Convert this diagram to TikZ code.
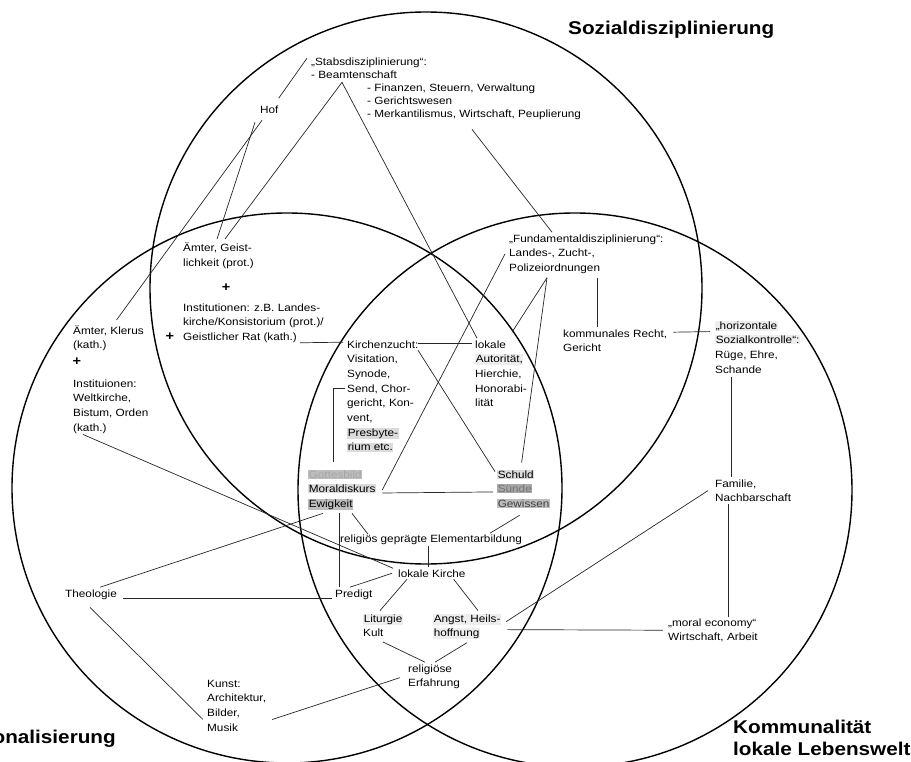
\documentclass[tikz,border=0pt]{standalone}
\usepackage{fontspec}
\setmainfont{Liberation Sans}[FakeStretch=1.12]
\usepackage{xcolor}
\usetikzlibrary{calc,positioning}
\definecolor{hllight}{gray}{0.93}
\definecolor{hlgray}{gray}{0.86}
\definecolor{hlmid}{gray}{0.74}
\definecolor{hldark}{gray}{0.66}
\newcommand{\hlbox}[2][hlgray]{{\setlength{\fboxsep}{0.6pt}\colorbox{#1}{#2}}}

\begin{document}
\begin{tikzpicture}[
    x=1pt, y=-1pt,
    ring/.style={draw, line width=1.4pt},
    conn/.style={draw, line width=0.7pt, black!85},
    lbl/.style={anchor=base west, inner sep=0, align=left,
        font=\fontsize{10.5}{14.7}\selectfont},
    rows/.style={yshift=-(#1-1)*14.7pt},
    tight/.style={font=\fontsize{10.5}{13}\selectfont},
    tightrows/.style={yshift=-(#1-1)*13pt},
    plus/.style={inner sep=0, font=\fontsize{13}{13}\selectfont\bfseries},
    title/.style={inner sep=0, align=left,
        font=\fontsize{18.5}{22}\selectfont\bfseries}]
\useasboundingbox (0,0) rectangle (911,762);

\path[ring] (426,288) circle[radius=276pt];
\path[ring] (287,488) circle[radius=275pt];
\path[ring] (575,490) circle[radius=277pt];

\node[title, anchor=base west] (tsozial) at (568,35) {Sozialdisziplinierung};
\node[title, anchor=base east] (tkonf) at (116,743) {Konfessionalisierung};
\node[title, anchor=base west, yshift=-22pt] (tkomm) at (733,733) {Kommunalität\\lokale Lebenswelt};

\node[lbl, tight, tightrows=2] (stabs) at (311,66) {„Stabsdisziplinierung“:\\- Beamtenschaft};
\node[lbl, tight, tightrows=3] (aufgaben) at (367,92) {- Finanzen, Steuern, Verwaltung\\- Gerichtswesen\\- Merkantilismus, Wirtschaft, Peuplierung};
\node[lbl] (hof) at (260,114) {Hof};
\node[lbl, rows=2] (amtergeist) at (183,252) {Ämter, Geist-\\lichkeit (prot.)};
\node[plus] (plusprot) at (226,288) {+};
\node[lbl, rows=3] (instprot) at (183,311) {Institutionen: z.B. Landes-\\kirche/Konsistorium (prot.)/\\Geistlicher Rat (kath.)};
\node[plus] (pluskath) at (170,337) {+};
\node[lbl, rows=2] (amterklerus) at (73,334) {Ämter, Klerus\\(kath.)};
\node[plus] (plusklerus) at (77,362) {+};
\node[lbl, rows=4] (instkath) at (73,387) {Instituionen:\\Weltkirche,\\Bistum, Orden\\(kath.)};

\node[lbl, rows=8] (kirchenzucht) at (347,348) {Kirchenzucht:\\Visitation,\\Synode,\\Send, Chor-\\gericht, Kon-\\vent,\\\hlbox{Presbyte-}\\\hlbox{rium etc.}};
\node[lbl, rows=5] (lokale) at (475,348) {lokale\\\hlbox[hllight]{Autorität,}\\Hierchie,\\Honorabi-\\lität};
\node[lbl, rows=3] (gottesbild) at (308,478) {\hlbox[hlmid]{\textcolor{black!35}{Gottesbild}}\\\hlbox{Moraldiskurs}\\\hlbox[hlmid]{Ewigkeit}};
\node[lbl, rows=3] (schuld) at (497,478) {\hlbox{Schuld}\\\hlbox[hldark]{\textcolor{black!55}{Sünde}}\\\hlbox[hlmid]{\textcolor{black!75}{Gewissen}}};

\node[lbl, rows=3] (fundamental) at (509,242) {„Fundamentaldisziplinierung“:\\Landes-, Zucht-,\\Polizeiordnungen};
\node[lbl, rows=2] (kommrecht) at (563,337) {kommunales Recht,\\Gericht};
\node[lbl, rows=4] (horizontal) at (715,329) {\hlbox[hllight]{„horizontale}\\\hlbox[hllight]{Sozialkontrolle“:}\\Rüge, Ehre,\\Schande};
\node[lbl, rows=2] (familie) at (715,487) {Familie,\\Nachbarschaft};
\node[lbl, rows=2] (moral) at (668,626) {„moral economy“\\Wirtschaft, Arbeit};

\node[lbl] (elementar) at (340,542) {religiös geprägte Elementarbildung};
\node[lbl] (lokkirche) at (398,577) {lokale Kirche};
\node[lbl] (predigt) at (335,597) {Predigt};
\node[lbl, rows=2] (liturgie) at (363,622) {\hlbox[hllight]{Liturgie}\\Kult};
\node[lbl, rows=2] (angst) at (433,622) {\hlbox[hllight]{Angst, Heils-}\\\hlbox[hllight]{hoffnung}};
\node[lbl, rows=2] (erfahrung) at (408,672) {religiöse\\Erfahrung};
\node[lbl] (theologie) at (65,597) {Theologie};
\node[lbl, rows=4] (kunst) at (207,687) {Kunst:\\Architektur,\\Bilder,\\Musik};

\coordinate (beamten) at ([shift={(31pt,-3pt)}]stabs.south west);
\coordinate (polizei) at ([shift={(38pt,-4pt)}]fundamental.south west);

\path[conn] ([yshift=8pt]hof.north east) -- ([xshift=-4pt]stabs.north west);
\path[conn] ([shift={(2pt,-6pt)}]hof.south west) -- ([shift={(8pt,5pt)}]amterklerus.north);
\path[conn] ([shift={(-5pt,-8pt)}]hof.south west) -- ([shift={(34pt,4pt)}]amtergeist.north west);
\path[conn] (beamten) -- ([shift={(42pt,4pt)}]amtergeist.north west);
\path[conn] (beamten) -- ([shift={(2pt,2pt)}]lokale.north west);
\path[conn] ([shift={(105pt,-9pt)}]aufgaben.south west) -- ([shift={(43pt,2pt)}]fundamental.north west);

\path[conn] ([shift={(88pt,-4pt)}]fundamental.south west) -- ([shift={(34pt,2pt)}]kommrecht.north west);
\path[conn] (polizei) -- ([shift={(37pt,8pt)}]lokale.north west);
\path[conn] (polizei) -- ([shift={(-2pt,7pt)}]schuld.north);
\path[conn] ([xshift=-4pt]fundamental.west) -- ([xshift=6pt]gottesbild.east);
\path[conn] ([shift={(6pt,-3pt)}]kommrecht.north east) -- ([shift={(-5pt,-11pt)}]horizontal.north west);
\path[conn] ([shift={(16pt,-4pt)}]horizontal.south west) -- ([shift={(16pt,2pt)}]familie.north west);
\path[conn] ([shift={(13pt,-2pt)}]familie.south west) -- ([shift={(60pt,1pt)}]moral.north west);
\path[conn] ([xshift=-7pt]familie.west) -- ([shift={(5pt,-8pt)}]angst.north east);
\path[conn] ([xshift=-5pt]moral.west) -- ([shift={(6pt,-3pt)}]angst.east);

\path[conn] ([xshift=117pt]instprot.south west) -- ([shift={(-4pt,-2pt)}]kirchenzucht.north west);
\path[conn] ([shift={(71pt,-3pt)}]kirchenzucht.north west) -- ([shift={(-3pt,-3pt)}]lokale.north west);
\path[conn] ([shift={(71pt,-10pt)}]kirchenzucht.north west) -- ([shift={(-2pt,-2pt)}]schuld.north west);
\path[conn] ([shift={(-2pt,-48pt)}]kirchenzucht.north west) -| ([shift={(25pt,8pt)}]gottesbild.north west);
\path[conn] ([shift={(6pt,-3pt)}]gottesbild.east) -- ([shift={(-4pt,-3pt)}]schuld.west);
\path[conn] ([shift={(-4pt,-7pt)}]schuld.south) -- ([shift={(150pt,1pt)}]elementar.north west);

\path[conn] ([shift={(31pt,-3pt)}]gottesbild.south west) -- ([shift={(4pt,2pt)}]predigt.north west);
\path[conn] ([shift={(44pt,-3pt)}]gottesbild.south west) -- ([shift={(28pt,0pt)}]elementar.north west);
\path[conn] ([shift={(15pt,-3pt)}]gottesbild.south west) -- ([shift={(9pt,2pt)}]theologie.north);
\path[conn] ([shift={(88pt,-2pt)}]elementar.south west) -- ([shift={(30pt,2pt)}]lokkirche.north west);
\path[conn] ([shift={(10pt,-1pt)}]instkath.south west) -- ([shift={(-5pt,5pt)}]lokkirche.west);
\path[conn] ([xshift=-6pt]lokkirche.west) -- ([shift={(15pt,2pt)}]predigt.north west);
\path[conn] ([shift={(9pt,-2pt)}]lokkirche.south west) -- ([shift={(17pt,3pt)}]liturgie.north west);
\path[conn] ([shift={(-12pt,-2pt)}]lokkirche.south east) -- ([shift={(45pt,3pt)}]angst.north west);
\path[conn] ([shift={(20pt,-5pt)}]liturgie.south west) -- ([shift={(17pt,2pt)}]erfahrung.north west);
\path[conn] ([shift={(34pt,-3pt)}]angst.south west) -- ([shift={(27pt,2pt)}]erfahrung.north west);

\path[conn] ([shift={(6pt,-4pt)}]theologie.east) -- ([shift={(-3pt,-4pt)}]predigt.west);
\path[conn] ([shift={(25pt,-8pt)}]theologie.south west) -- ([shift={(-4pt,-14pt)}]kunst.west);
\path[conn] ([shift={(6pt,-14pt)}]kunst.east) -- ([shift={(-8pt,-1pt)}]erfahrung.west);

\end{tikzpicture}
\end{document}
